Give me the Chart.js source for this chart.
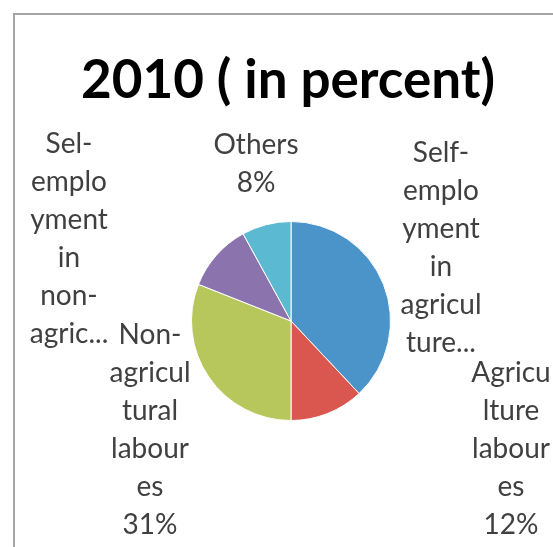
<!DOCTYPE html>
<html>
<head>
<meta charset="utf-8">
<script src="https://cdn.jsdelivr.net/npm/chart.js@4"></script>
<style>
  body { margin: 0; background: #fff; }
  #wrap { position: relative; width: 553px; height: 547px; overflow: hidden; }
  #frame { position: absolute; left: 13px; top: 13px; width: 620px; height: 620px; border: 2px solid #a5a5a5; }
  #chart { position: absolute; left: 0; top: 0; }
</style>
</head>
<body>
<div id="wrap">
  <div id="frame"></div>
  <canvas id="chart" width="553" height="547"></canvas>
</div>
<script>
const chartTitle = '2010 ( in percent)';
const categories = [
  'Self-employment in agriculture',
  'Agriculture labourers',
  'Non-agricultural labourers',
  'Sel-employment in non-agriculture',
  'Others'
];
const shares = [38, 12, 31, 11, 8];

// text as the labels are wrapped / cut in the picture
const labelLines = [
  ['Self-', 'emplo', 'yment', 'in', 'agricul', 'ture...'],
  ['Agricu', 'lture', 'labour', 'es', '12%'],
  ['Non-', 'agricul', 'tural', 'labour', 'es', '31%'],
  ['Sel-', 'emplo', 'yment', 'in', 'non-', 'agric...'],
  ['Others', '8%']
];

const colors = ['#4b94c9', '#d9574f', '#b8c75c', '#8b73ad', '#5bbad1'];

// label block placement relative to the pie centre (x of centre line, first baseline)
const labelOffsets = [[150, -159], [220, 61], [-141, 23], [-222, -168], [-35, -167]];

// title is drawn by hand: the built-in one gets squeezed to the chart area width
const titleText = {
  id: 'titleText',
  afterDraw(chart) {
    const ctx = chart.ctx;
    ctx.save();
    ctx.font = 'bold 53px Lato';
    ctx.fillStyle = '#000';
    ctx.textAlign = 'center';
    ctx.textBaseline = 'alphabetic';
    ctx.fillText(chartTitle, 288, 98);
    ctx.restore();
  }
};

const sliceLabels = {
  id: 'sliceLabels',
  afterDatasetsDraw(chart) {
    const ctx = chart.ctx;
    const arcs = chart.getDatasetMeta(0).data;
    ctx.save();
    ctx.font = '28px Lato';
    ctx.fillStyle = '#404040';
    ctx.textAlign = 'center';
    ctx.textBaseline = 'alphabetic';
    arcs.forEach((arc, i) => {
      const x = arc.x + labelOffsets[i][0];
      let y = arc.y + labelOffsets[i][1];
      labelLines[i].forEach(line => {
        ctx.fillText(line, x, y);
        y += 38;
      });
    });
    ctx.restore();
  }
};

new Chart(document.getElementById('chart'), {
  type: 'pie',
  data: {
    labels: categories,
    datasets: [{
      data: shares,
      backgroundColor: colors,
      borderColor: '#ffffff',
      borderWidth: 1
    }]
  },
  options: {
    responsive: false,
    animation: false,
    layout: { padding: { left: 191, right: 162, top: 221, bottom: 126 } },
    plugins: {
      legend: { display: false },
      tooltip: { enabled: false },
      title: { display: false }
    }
  },
  plugins: [sliceLabels, titleText]
});
</script>
</body>
</html>
